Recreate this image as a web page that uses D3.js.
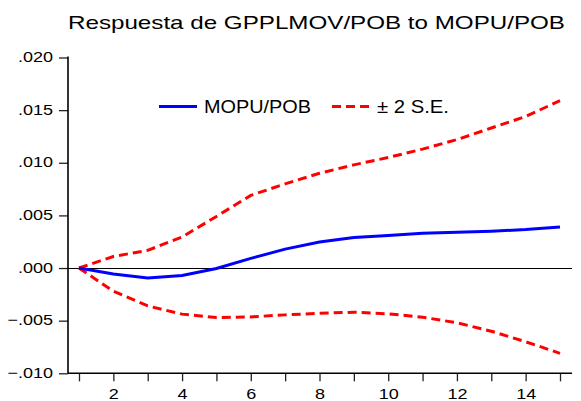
<!DOCTYPE html>
<html>
<head>
<meta charset="utf-8">
<script src="https://cdn.jsdelivr.net/npm/d3@7"></script>
<style>
  body { margin: 0; background: #fff; }
  text { font-family: "Liberation Sans", Arial, sans-serif; fill: #000; }
</style>
</head>
<body>
<svg id="chart"></svg>
<script>
var periods = [1, 2, 3, 4, 5, 6, 7, 8, 9, 10, 11, 12, 13, 14, 15];
var response = [0, -0.00057, -0.00095, -0.0007, -0.00004, 0.00092, 0.0018, 0.00248, 0.0029, 0.0031, 0.0033, 0.0034, 0.0035, 0.00365, 0.0039];
var upperSE = [0, 0.0011, 0.00168, 0.00295, 0.0049, 0.0069, 0.0080, 0.0090, 0.0098, 0.0105, 0.0113, 0.0122, 0.0133, 0.0144, 0.0159];
var lowerSE = [0, -0.0022, -0.0036, -0.00438, -0.0047, -0.00464, -0.00445, -0.0043, -0.0042, -0.00435, -0.00467, -0.0052, -0.006, -0.007, -0.0081];
var yTicks = [-0.010, -0.005, 0.000, 0.005, 0.010, 0.015, 0.020];
var xLabelTicks = [2, 4, 6, 8, 10, 12, 14];
var title = "Respuesta de GPPLMOV/POB to MOPU/POB";
var legendLabels = ["MOPU/POB", "\u00b1 2 S.E."];

var width = 581, height = 401;
var svg = d3.select("#chart").attr("width", width).attr("height", height);

var plotLeft = 68, plotRight = 572, plotTop = 57.5, plotBottom = 373.3;

var x = d3.scaleLinear().domain([1, 15]).range([79, 560]);
var y = d3.scaleLinear().domain([-0.010, 0.020]).range([plotBottom, plotTop]);

function stretch(sel, k) {
  sel.each(function() {
    var w = this.getComputedTextLength();
    d3.select(this).attr("textLength", w * k).attr("lengthAdjust", "spacingAndGlyphs");
  });
}

// title
svg.append("text")
  .attr("x", 68)
  .attr("y", 28.5)
  .style("font-size", "19px")
  .attr("textLength", 497)
  .attr("lengthAdjust", "spacingAndGlyphs")
  .text(title);

// zero line
var y0 = Math.round(y(0)) + 0.5;
svg.append("line")
  .attr("x1", plotLeft).attr("x2", plotRight)
  .attr("y1", y0).attr("y2", y0)
  .attr("stroke", "#000").attr("stroke-width", 1);

// y axis
var gy = svg.append("g")
  .attr("transform", "translate(" + plotLeft + ",0)")
  .call(d3.axisLeft(y).tickValues(yTicks).tickSize(9).tickPadding(6)
    .tickFormat(function(d) { return d3.format(".3f")(d).replace("0.", "."); }));
gy.select(".domain").remove();
gy.selectAll(".tick line").attr("stroke", "#222").attr("stroke-width", 1.3);
gy.selectAll("text").style("font-size", "15px").attr("font-family", null).attr("dy", "0.28em");
stretch(gy.selectAll("text"), 1.2);

// x axis
var gx = svg.append("g")
  .attr("transform", "translate(0," + plotBottom + ")")
  .call(d3.axisBottom(x).tickValues(periods).tickSize(8).tickPadding(7)
    .tickFormat(function(d) { return xLabelTicks.indexOf(d) >= 0 ? d : ""; }));
gx.select(".domain").remove();
gx.selectAll(".tick line").attr("stroke", "#222").attr("stroke-width", 1.3);
gx.selectAll("text").style("font-size", "15px").attr("font-family", null);
stretch(gx.selectAll("text"), 1.2);

// axis lines
svg.append("line")
  .attr("x1", plotLeft).attr("x2", plotLeft)
  .attr("y1", plotTop - 1).attr("y2", plotBottom)
  .attr("stroke", "#000").attr("stroke-width", 1.6);
svg.append("line")
  .attr("x1", plotLeft).attr("x2", plotRight)
  .attr("y1", plotBottom).attr("y2", plotBottom)
  .attr("stroke", "#000").attr("stroke-width", 1.6);

var line = d3.line()
  .x(function(d, i) { return x(periods[i]); })
  .y(function(d) { return y(d); });

svg.append("path")
  .datum(upperSE)
  .attr("d", line)
  .attr("fill", "none").attr("stroke", "#ff0000").attr("stroke-width", 3)
  .attr("stroke-dasharray", "9,5");

svg.append("path")
  .datum(lowerSE)
  .attr("d", line)
  .attr("fill", "none").attr("stroke", "#ff0000").attr("stroke-width", 3)
  .attr("stroke-dasharray", "9,5");

svg.append("path")
  .datum(response)
  .attr("d", line)
  .attr("fill", "none").attr("stroke", "#0000ff").attr("stroke-width", 3);

// legend
var legend = svg.append("g");
legend.append("line")
  .attr("x1", 159).attr("x2", 197).attr("y1", 106.5).attr("y2", 106.5)
  .attr("stroke", "#0000ff").attr("stroke-width", 3);
legend.append("text")
  .attr("x", 204).attr("y", 113)
  .style("font-size", "18px")
  .attr("textLength", 107).attr("lengthAdjust", "spacingAndGlyphs")
  .text(legendLabels[0]);
legend.append("line")
  .attr("x1", 332).attr("x2", 370).attr("y1", 106.5).attr("y2", 106.5)
  .attr("stroke", "#ff0000").attr("stroke-width", 3)
  .attr("stroke-dasharray", "9,5");
legend.append("text")
  .attr("x", 377).attr("y", 113)
  .style("font-size", "18px")
  .attr("textLength", 72).attr("lengthAdjust", "spacingAndGlyphs")
  .text(legendLabels[1]);
</script>
</body>
</html>
